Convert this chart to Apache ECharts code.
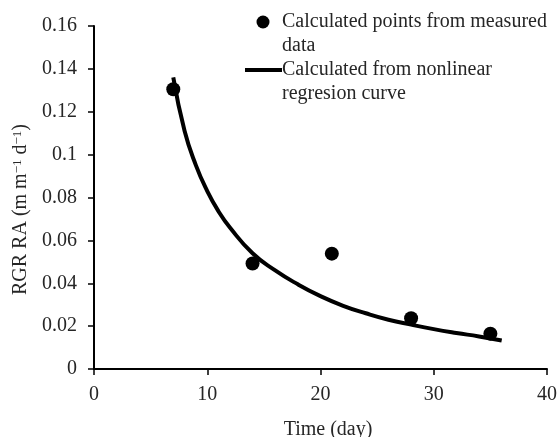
<!DOCTYPE html>
<html>
<head>
<meta charset="utf-8">
<script src="https://cdn.jsdelivr.net/npm/echarts@6/dist/echarts.min.js"></script>
<style>html,body{margin:0;padding:0;background:#fff}#c{width:559px;height:437px}</style>
</head>
<body>
<div id="c"></div>
<script>
// Measured points
var measuredDays = [7, 14, 21, 28, 35];
var measuredRGR = [0.1305, 0.0492, 0.0538, 0.0237, 0.0165];
// Nonlinear regression curve
var curveDays = [7, 8, 9, 10, 11, 12, 14, 16, 18, 20, 22, 24, 26, 28, 30, 32, 34, 36];
var curveRGR = [0.136, 0.111, 0.095, 0.083, 0.0735, 0.066, 0.054, 0.046, 0.0395, 0.034, 0.0295, 0.026, 0.023, 0.0207, 0.0186, 0.0168, 0.0152, 0.0133];
var xTicks = [0, 10, 20, 30, 40];
var yTicks = [0, 0.02, 0.04, 0.06, 0.08, 0.1, 0.12, 0.14, 0.16];
var legendNames = ['Calculated points from measured\ndata', 'Calculated from nonlinear\nregresion curve'];

var font = 'Liberation Serif, Times New Roman, serif';
var fs = 20;
var txt = '#262626';
function pair(xs, ys) { return xs.map(function (x, i) { return [x, ys[i]]; }); }

var chart = echarts.init(document.getElementById('c'));
chart.setOption({
  animation: false,
  backgroundColor: '#fff',
  grid: { left: 94, right: 12, top: 26, bottom: 68, outerBoundsMode: 'none', containLabel: false },
  xAxis: {
    type: 'value', min: xTicks[0], max: xTicks[xTicks.length - 1], interval: 10,
    name: 'Time (day)', nameLocation: 'middle', nameGap: 51,
    nameTextStyle: { fontFamily: font, fontSize: fs, color: txt, padding: [0, 0, 0, 15] },
    axisLine: { lineStyle: { color: '#000', width: 2 } },
    axisTick: { show: true, length: 6, lineStyle: { color: '#000', width: 1.5 } },
    axisLabel: { fontFamily: font, fontSize: fs, color: txt, margin: 16 },
    splitLine: { show: false }
  },
  yAxis: {
    type: 'value', min: yTicks[0], max: yTicks[yTicks.length - 1], interval: 0.02,
    name: 'RGR RA (m m{s|−1} d{s|−1})', nameLocation: 'middle', nameGap: 61,
    nameTextStyle: { fontFamily: font, fontSize: fs, color: txt, padding: [0, 24, 0, 0],
      rich: { s: { fontFamily: font, fontSize: 13, color: txt, verticalAlign: 'top', lineHeight: 14 } } },
    axisLine: { show: true, lineStyle: { color: '#000', width: 2 } },
    axisTick: { show: true, length: 6, lineStyle: { color: '#000', width: 1.5 } },
    axisLabel: { fontFamily: font, fontSize: fs, color: txt, margin: 17,
      formatter: function (v) { return String(+v.toFixed(2)); } },
    splitLine: { show: false }
  },
  graphic: [
    { type: 'circle', shape: { cx: 263, cy: 22, r: 6.5 }, style: { fill: '#000' } },
    { type: 'text', left: 282, top: 10, style: { text: legendNames[0], font: fs + 'px ' + font, fill: txt, lineHeight: 24 } },
    { type: 'line', shape: { x1: 245, y1: 70, x2: 282, y2: 70 }, style: { stroke: '#000', lineWidth: 4 } },
    { type: 'text', left: 282, top: 58, style: { text: legendNames[1], font: fs + 'px ' + font, fill: txt, lineHeight: 24 } }
  ],
  series: [
    { name: 'measured', type: 'scatter', data: pair(measuredDays, measuredRGR), symbol: 'circle', symbolSize: 14,
      itemStyle: { color: '#000', opacity: 1 }, z: 3 },
    { name: 'curve', type: 'line', data: pair(curveDays, curveRGR), smooth: true, showSymbol: false,
      lineStyle: { color: '#000', width: 4 }, z: 4 }
  ]
});
</script>
</body>
</html>
